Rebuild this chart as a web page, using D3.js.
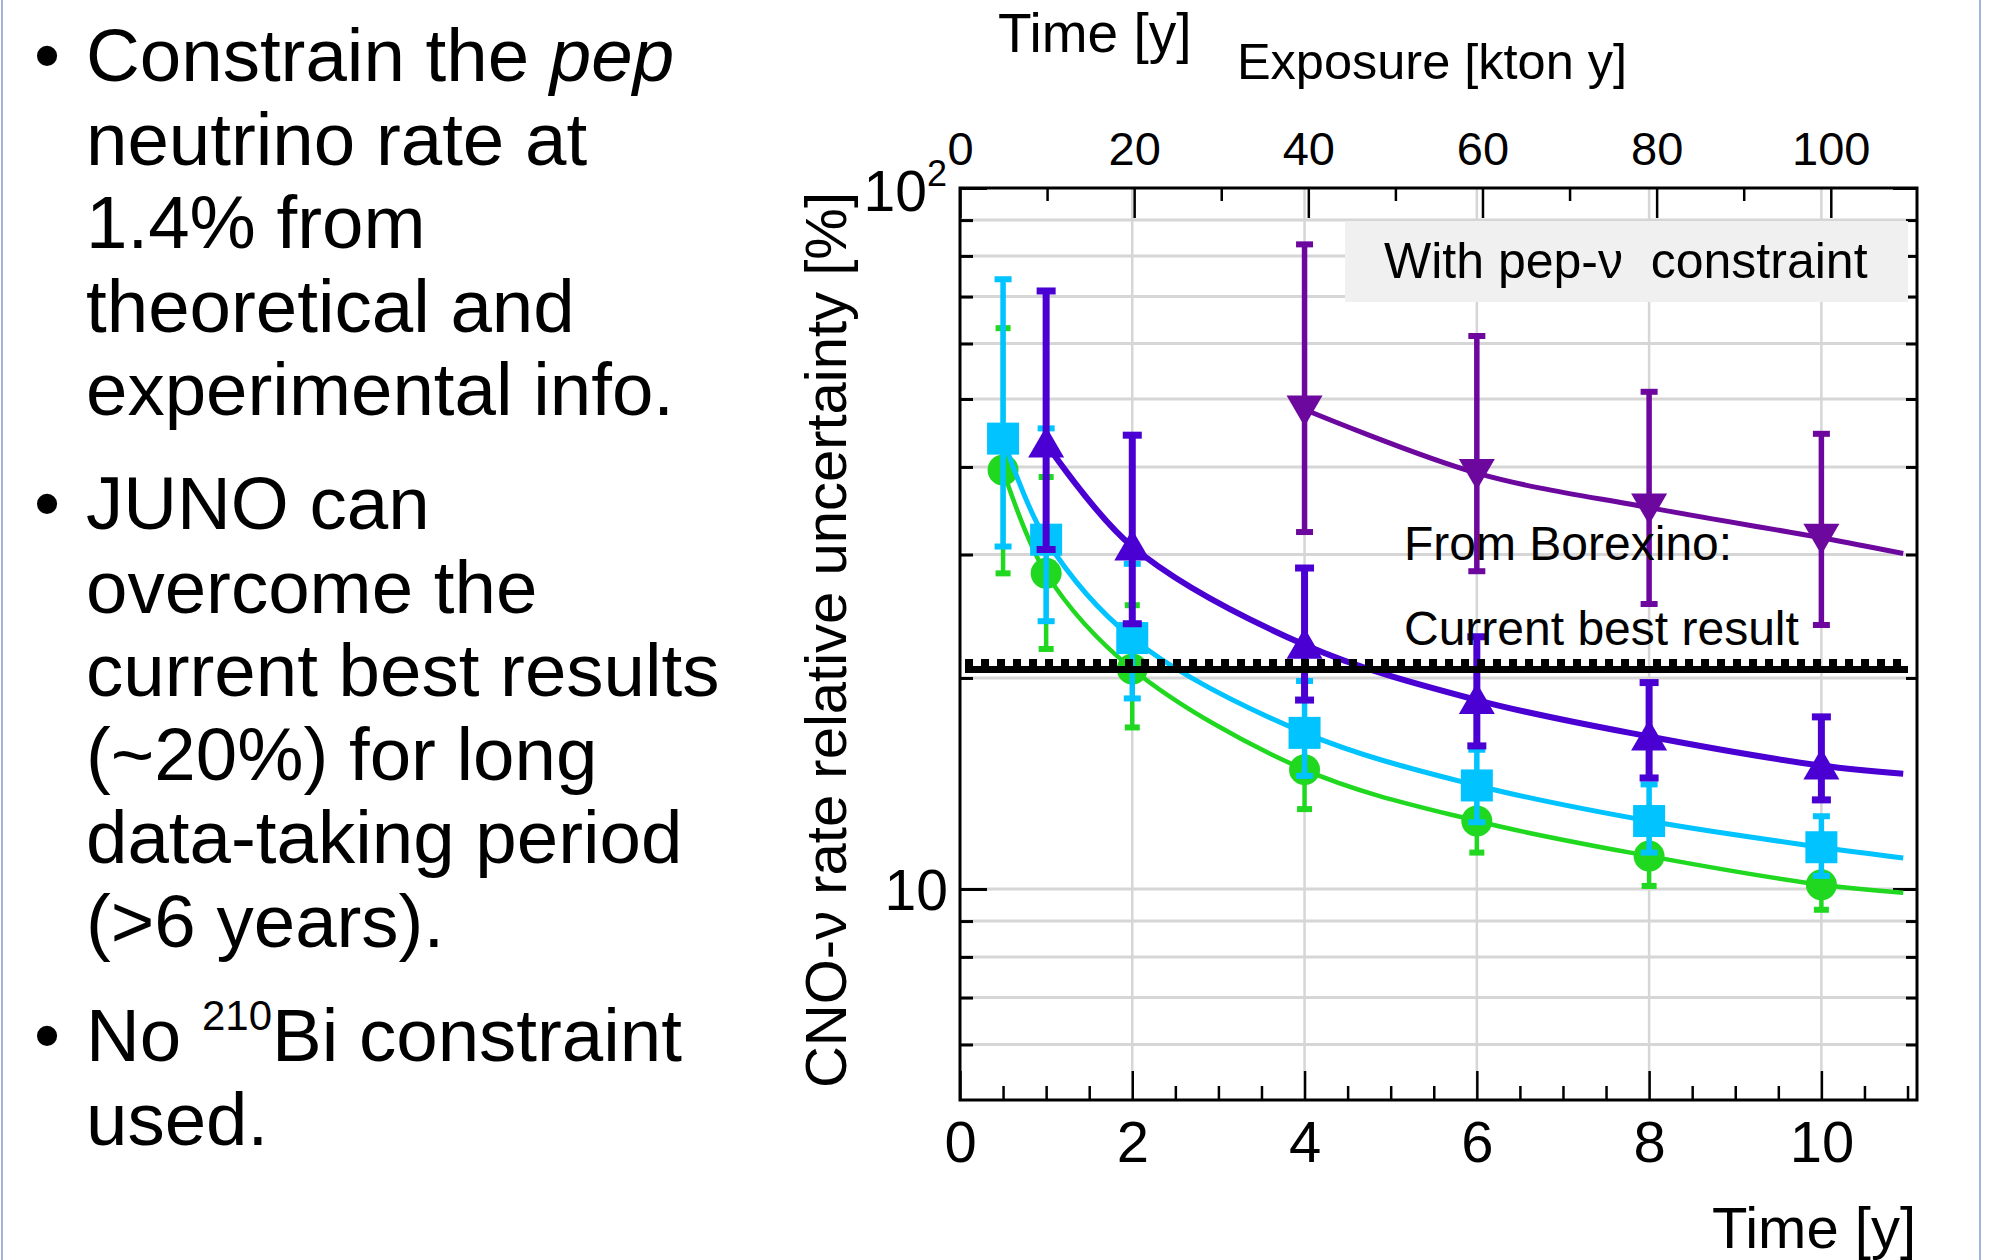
<!DOCTYPE html>
<html><head><meta charset="utf-8">
<script src="https://cdn.jsdelivr.net/npm/d3@7/dist/d3.min.js"></script>
<style>
body{margin:0;background:#fff;}
svg{display:block;font-family:"Liberation Sans",Arial,Helvetica,sans-serif;}
</style>
</head><body>
<svg id="c" width="1996" height="1260"></svg>
<script>
// ---------------- data ----------------
const years = [0.5, 1, 2, 4, 6, 8, 10];
const greenVal = [39.6, 28.2, 20.6, 14.8, 12.5, 11.14, 10.14];
const greenLo  = [28.2, 22.0, 17.0, 13.0, 11.27, 10.1, 9.34];
const greenHi  = [63.1, 38.7, 25.4, 16.3, 13.8, 12.2, 11.0];
const cyanVal  = [43.9, 31.5, 22.8, 16.7, 14.05, 12.5, 11.47];
const cyanLo   = [30.8, 24.1, 18.7, 14.5, 12.45, 11.27, 10.44];
const cyanHi   = [74.1, 45.4, 29.1, 19.8, 15.8, 14.1, 12.7];
const violetYears = [1, 2, 4, 6, 8, 10];
const violetVal = [43.2, 30.8, 22.3, 18.6, 16.5, 15.0];
const violetLo  = [30.5, 23.9, 18.6, 16.0, 14.4, 13.4];
const violetHi  = [71.3, 44.4, 28.7, 22.9, 19.7, 17.6];
const purpleYears = [4, 6, 8, 10];
const purpleVal = [48.3, 39.2, 35.0, 31.7];
const purpleLo  = [32.3, 28.4, 25.5, 23.8];
const purpleHi  = [83.1, 61.5, 51.2, 44.6];
// fitted curves: [time, value]
const greenFit  = [[0.5,39.6],[1,28.2],[2,20.6],[4,14.8],[6,12.5],[8,11.14],[10,10.14],[10.95,9.88]];
const cyanFit   = [[0.5,43.9],[1,31.5],[2,22.8],[4,16.7],[6,14.05],[8,12.5],[10,11.47],[10.95,11.07]];
const violetFit = [[1,43.2],[2,30.8],[4,22.3],[6,18.6],[8,16.5],[10,15.0],[10.95,14.6]];
const purpleFit = [[4,48.3],[6,39.2],[8,35.0],[10,31.7],[10.95,30.1]];
const borexino = 20.7;
// axes
const timeMajor = [0, 2, 4, 6, 8, 10];
const timeMinor = [0.5,1,1.5,2.5,3,3.5,4.5,5,5.5,6.5,7,7.5,8.5,9,9.5,10.5,11];
const expoMajor = [0, 20, 40, 60, 80, 100];
const expoMinor = [10, 30, 50, 70, 90];
const yMajor = [10, 100];
const yMinor = [6, 7, 8, 9, 20, 30, 40, 50, 60, 70, 80, 90];
const yGrid = [6, 7, 8, 9, 10, 20, 30, 40, 50, 60, 70, 80, 90];
const xGrid = [2, 4, 6, 8, 10];

// ---------------- layout ----------------
const svg = d3.select("#c");
const L = 960, R = 1917, T = 188, B = 1100;
const x = d3.scaleLinear().domain([0, 11.11]).range([L, R]);
const xTop = d3.scaleLinear().domain([0, 109.9]).range([L, R]);
const y = d3.scaleLog().domain([5, 100]).range([B, T]);

// slide borders
svg.append("line").attr("x1",2).attr("x2",2).attr("y1",0).attr("y2",1260).attr("stroke","#9fb4d8").attr("stroke-width",2);
svg.append("line").attr("x1",1980).attr("x2",1980).attr("y1",0).attr("y2",1260).attr("stroke","#9fb4d8").attr("stroke-width",2);

// bullet text
const FS = 74.5;
const paras = [
  {y0: 81, lines: [[["Constrain the ",""],["pep","italic"]],[["neutrino rate at",""]],[["1.4% from",""]],[["theoretical and",""]],[["experimental info.",""]]]},
  {y0: 529, lines: [[["JUNO can",""]],[["overcome the",""]],[["current best results",""]],[["(~20%) for long",""]],[["data-taking period",""]],[["(>6 years).",""]]]},
  {y0: 1061, lines: [[["No ",""],["210","sup"],["Bi constraint","after"]],[["used.",""]]]}
];
const tg = svg.append("g").attr("font-size", FS).attr("fill","#000");
paras.forEach(p => {
  tg.append("text").attr("x", 34).attr("y", p.y0).text("\u2022");
  p.lines.forEach((ln, i) => {
    const t = tg.append("text").attr("x", 86).attr("y", p.y0 + i*83.5);
    ln.forEach(([s, st]) => {
      const ts = t.append("tspan").text(s);
      if (st === "italic") ts.attr("font-style","italic");
      if (st === "sup") ts.attr("font-size", 42).attr("dy", -31);
      if (st === "after") ts.attr("dy", 31);
    });
  });
});

// grid
const grid = svg.append("g").attr("stroke","#d6d6d6");
yGrid.forEach(v => grid.append("line").attr("x1",L).attr("x2",R).attr("y1",y(v)).attr("y2",y(v)).attr("stroke-width",3));
xGrid.forEach(v => grid.append("line").attr("x1",x(v)).attr("x2",x(v)).attr("y1",T).attr("y2",B).attr("stroke-width",2.5));

// axes (ticks inside)
function styleAx(g, w){ g.select(".domain").remove(); g.selectAll(".tick line").attr("stroke","#000").attr("stroke-width", w); }
svg.append("g").attr("transform",`translate(0,${B})`).call(d3.axisBottom(x).tickValues(timeMinor).tickSize(-14).tickFormat("")).call(g=>styleAx(g,2.5));
svg.append("g").attr("transform",`translate(0,${B})`).call(d3.axisBottom(x).tickValues(timeMajor).tickSize(-29).tickPadding(21).tickFormat(d3.format("d")))
  .call(g=>{styleAx(g,2.5); g.selectAll("text").attr("font-size",58).attr("fill","#000").attr("font-family","Liberation Sans, Arial, sans-serif");});
svg.append("g").attr("transform",`translate(0,${T})`).call(d3.axisTop(xTop).tickValues(expoMinor).tickSize(-13).tickFormat("")).call(g=>styleAx(g,2.5));
svg.append("g").attr("transform",`translate(0,${T})`).call(d3.axisTop(xTop).tickValues(expoMajor).tickSize(-30).tickPadding(23).tickFormat(d3.format("d")))
  .call(g=>{styleAx(g,2.5); g.selectAll("text").attr("font-size",47).attr("fill","#000").attr("font-family","Liberation Sans, Arial, sans-serif");});
svg.append("g").attr("transform",`translate(${L},0)`).call(d3.axisLeft(y).tickValues(yMinor).tickSize(-13).tickFormat("")).call(g=>styleAx(g,3));
svg.append("g").attr("transform",`translate(${L},0)`).call(d3.axisLeft(y).tickValues(yMajor).tickSize(-27).tickFormat("")).call(g=>styleAx(g,3));
svg.append("g").attr("transform",`translate(${R},0)`).call(d3.axisRight(y).tickValues(yMinor).tickSize(-11).tickFormat("")).call(g=>styleAx(g,3));
svg.append("g").attr("transform",`translate(${R},0)`).call(d3.axisRight(y).tickValues(yMajor).tickSize(-24).tickFormat("")).call(g=>styleAx(g,3));

// y labels
svg.append("text").attr("x",948).attr("y",y(10)+21).attr("text-anchor","end").attr("font-size",57).text("10");
const l2 = svg.append("text").attr("x",947).attr("y",y(100)+23).attr("text-anchor","end").attr("font-size",57);
l2.append("tspan").text("10"); l2.append("tspan").attr("font-size",36).attr("dy",-25).text("2");

// axis titles
svg.append("text").attr("transform","translate(846,640) rotate(-90)").attr("text-anchor","middle").attr("font-size",58).text("CNO-\u03bd rate relative uncertainty [%]");
svg.append("text").attr("x",1916).attr("y",1248).attr("text-anchor","end").attr("font-size",58).text("Time [y]");
svg.append("text").attr("x",1432).attr("y",79).attr("text-anchor","middle").attr("font-size",50.5).text("Exposure [kton y]");
svg.append("text").attr("x",998).attr("y",52).attr("font-size",55).text("Time [y]");

// legend box
svg.append("rect").attr("x",1345).attr("y",221).attr("width",563).attr("height",81).attr("fill","#f0f0f0");
svg.append("text").attr("x",1384).attr("y",278).attr("font-size",50).text("With pep-\u03bd\u00a0 constraint");

// series
const line = d3.line().x(d=>x(d[0])).y(d=>y(d[1])).curve(d3.curveCatmullRom.alpha(0.5));
function series(xs, val, lo, hi, fit, color, opt){
  const g = svg.append("g");
  xs.forEach((t,i)=>{
    g.append("line").attr("x1",x(t)).attr("x2",x(t)).attr("y1",y(lo[i])).attr("y2",y(hi[i])).attr("stroke",color).attr("stroke-width",opt.bw);
    [lo[i],hi[i]].forEach(v=> g.append("rect").attr("x",x(t)-opt.cw/2).attr("y",y(v)-opt.ch/2).attr("width",opt.cw).attr("height",opt.ch).attr("fill",color));
  });
  g.append("path").attr("d",line(fit)).attr("fill","none").attr("stroke",color).attr("stroke-width",opt.lw);
  xs.forEach((t,i)=>{
    const cx = x(t), cy = y(val[i]);
    if (opt.m==="circle") g.append("circle").attr("cx",cx).attr("cy",cy).attr("r",15.5).attr("fill",color);
    else if (opt.m==="square") g.append("rect").attr("x",cx-16).attr("y",cy-16).attr("width",32).attr("height",32).attr("fill",color);
    else if (opt.m==="up") g.append("path").attr("d",`M${cx},${cy-17}L${cx+18},${cy+14}L${cx-18},${cy+14}Z`).attr("fill",color);
    else g.append("path").attr("d",`M${cx},${cy+17}L${cx+18},${cy-14}L${cx-18},${cy-14}Z`).attr("fill",color);
  });
}
series(years, greenVal, greenLo, greenHi, greenFit, "#1fd81f", {m:"circle", bw:4.5, cw:15, ch:6, lw:4.5});
series(years, cyanVal, cyanLo, cyanHi, cyanFit, "#00c3ff", {m:"square", bw:5.5, cw:17, ch:6, lw:5});
series(violetYears, violetVal, violetLo, violetHi, violetFit, "#4a00d2", {m:"up", bw:7, cw:19, ch:7, lw:6});
series(purpleYears, purpleVal, purpleLo, purpleHi, purpleFit, "#6c089e", {m:"down", bw:5.5, cw:17, ch:6, lw:5});

// Borexino current best result
const by = y(borexino);
svg.append("line").attr("x1",965).attr("x2",1908).attr("y1",by+2).attr("y2",by+2).attr("stroke","#000").attr("stroke-width",7);
svg.append("line").attr("x1",965).attr("x2",1908).attr("y1",by-5).attr("y2",by-5).attr("stroke","#000").attr("stroke-width",7).attr("stroke-dasharray","8,8");
svg.append("text").attr("x",1404).attr("y",560).attr("font-size",48).text("From Borexino:");
svg.append("text").attr("x",1404).attr("y",645).attr("font-size",48).text("Current best result");

// frame
svg.append("rect").attr("x",L).attr("y",T).attr("width",R-L).attr("height",B-T).attr("fill","none").attr("stroke","#000").attr("stroke-width",3);
</script>
</body></html>
